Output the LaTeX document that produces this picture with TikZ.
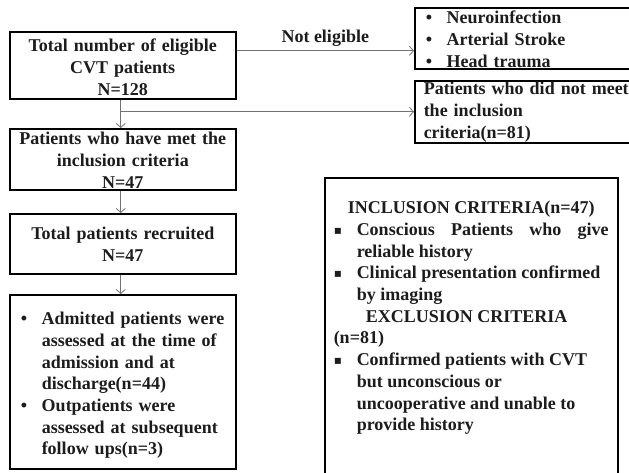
\documentclass[tikz,border=0pt]{standalone}
\usepackage{fontspec}
\setmainfont{Liberation Serif}
\newfontfamily\symfont{DejaVu Sans}
\usetikzlibrary{arrows.meta}
\definecolor{txt}{RGB}{28,28,28}
\definecolor{arrc}{RGB}{115,115,115}
\newcommand{\firstitem}[2]{\hangindent=#1\hangafter=1\noindent\makebox[#1][l]{#2}}
\newcommand{\hangitem}[2]{\par\hangindent=#1\hangafter=1\noindent\makebox[#1][l]{#2}}
\newcommand{\sqb}{\raisebox{1pt}{\symfont\fontsize{12}{12}\selectfont\char"25AA}}
\begin{document}
\begin{tikzpicture}[x=1pt,y=-1pt,
  box/.style={draw=black, line width=1.5pt, anchor=north west, inner ysep=0pt,
    font=\fontsize{18}{21.7}\selectfont\bfseries, text=txt},
  arr/.style={draw=arrc, line width=0.8pt, -{Straight Barb[length=4pt,width=9pt]}},
  lbl/.style={font=\fontsize{18}{21.7}\selectfont\bfseries, text=txt}]
\useasboundingbox (0,0) rectangle (629,472);
\clip (0,0) rectangle (629,472);
\node[box, inner xsep=4pt, text width=218pt, align=center, text height=20pt, text depth=47pt] (total) at (9,31)
  {Total number of eligible\\CVT patients\\N=128};
\node[box, inner xsep=4pt, text width=218pt, align=center, text height=16pt, text depth=45pt] (met) at (9,128)
  {Patients who have met the\\inclusion criteria\\N=47};
\node[box, inner xsep=4pt, text width=218pt, align=center, text height=26pt, text depth=34pt] (recr) at (9,213)
  {Total patients recruited\\N=47};
\node[box, inner xsep=11pt, text width=204pt, align=left, text height=30pt, text depth=144pt] (assess) at (9,294)
  {\firstitem{21pt}{•}Admitted patients were\newline assessed at the time of\newline admission and at\newline discharge(n=44)
   \hangitem{21pt}{•}Outpatients were\newline assessed at subsequent\newline follow ups(n=3)\par};
\node[box, inner xsep=11pt, text width=260pt, align=left, text height=16pt, text depth=45pt] (neuro) at (414,7)
  {\firstitem{21pt}{•}Neuroinfection\hangitem{21pt}{•}Arterial Stroke\hangitem{21pt}{•}Head trauma\par};
\node[box, inner xsep=9pt, text width=260pt, align=left, text height=14pt, text depth=48pt] (notmeet) at (414,80)
  {Patients who did not meet\\the inclusion\\criteria(n=81)};
\node[box, inner xsep=9pt, text width=275pt, align=justify, text height=36pt, text depth=300pt] (crit) at (324,177)
  {\makebox[\linewidth]{INCLUSION CRITERIA(n=47)}\par
   \hangitem{23pt}{\sqb}Conscious Patients who give\linebreak reliable history\par
   \hangitem{23pt}{\sqb}Clinical presentation confirmed\newline by imaging\par
   \noindent\hspace*{32pt}EXCLUSION CRITERIA\newline (n=81)\par
   \hangitem{23pt}{\sqb}Confirmed patients with CVT\newline but unconscious or\newline uncooperative and unable to\newline provide history\par};
\draw[arr] ([yshift=14.5pt]total.east) -- ([yshift=14.5pt]total.east -| neuro.west)
  node[midway, above, inner sep=4pt, lbl] (ne) {Not eligible};
\draw[arr] ([xshift=-2pt]total.south) -- ([xshift=-2pt]met.north);
\draw[arr] ([xshift=-2pt]total.south |- notmeet.west) -- (notmeet.west);
\draw[arr] ([xshift=-2pt]met.south) -- ([xshift=-2pt]recr.north);
\draw[arr] ([xshift=-2pt]recr.south) -- ([xshift=-2pt]assess.north);
\end{tikzpicture}
\end{document}
